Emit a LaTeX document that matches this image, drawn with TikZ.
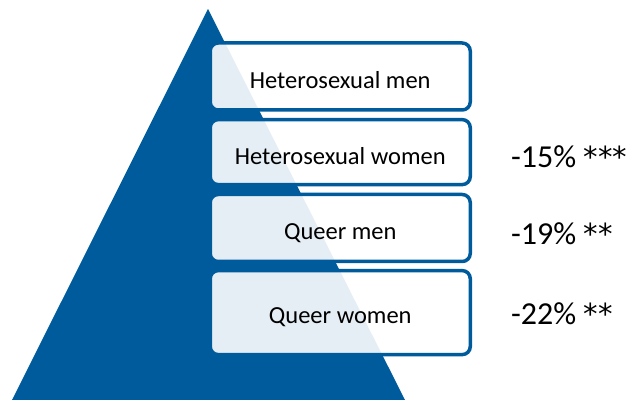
\documentclass[tikz,border=0pt]{standalone}
\usepackage{fontspec}
\setmainfont{Carlito}
\newfontfamily\starfont{DejaVu Sans}
\definecolor{pyrblue}{RGB}{0,91,156}
\newcommand{\sigstars}[1]{{\starfont\fontsize{29}{34}\selectfont #1}}
\tikzset{
        grp_box/.style = {rectangle, rounded corners=8pt, draw=pyrblue,
            line width=3.5pt, fill=white, fill opacity=0.9,
            minimum width=260pt, inner sep=0pt},
        grp_txt/.style = {inner sep=0pt, text=black,
            font=\fontsize{24.5}{29}\selectfont},
        pct_txt/.style = {inner sep=0pt, anchor=west, text=black,
            font=\fontsize{32}{38}\selectfont}
    }
\begin{document}
\begin{tikzpicture}[x=1pt,y=-1pt]
\useasboundingbox (0,0) rectangle (633,403);
% PYRAMID
\fill[pyrblue] (208,9) -- (405,400) -- (12,400) -- cycle;
% GROUPS
\node[grp_box, minimum height=67pt] (hm_box) at (340.25,76.5) {};
\node[grp_box, minimum height=65pt] (hw_box) at (340.25,152.1) {};
\node[grp_box, minimum height=67pt] (qm_box) at (340.25,228) {};
\node[grp_box, minimum height=84pt] (qw_box) at (340.25,312.6) {};
\node[grp_txt] (hm) at ([yshift=-3.5pt]hm_box.center) {Heterosexual men};
\node[grp_txt] (hw) at ([yshift=-4.4pt]hw_box.center) {Heterosexual women};
\node[grp_txt] (qm) at ([yshift=-4.7pt]qm_box.center) {Queer men};
\node[grp_txt] (qw) at ([yshift=-5pt]qw_box.center) {Queer women};
% GAPS
\node[pct_txt] (hw_gap) at (511,157) {-15\% \sigstars{***}};
\node[pct_txt] (qm_gap) at (511,234) {-19\% \sigstars{**}};
\node[pct_txt] (qw_gap) at (511,314) {-22\% \sigstars{**}};
\end{tikzpicture}
\end{document}
